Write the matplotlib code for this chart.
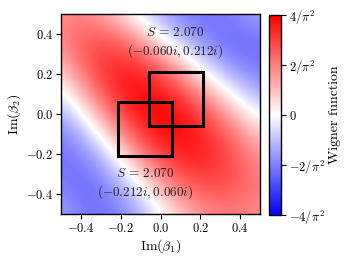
import numpy as np
import matplotlib
matplotlib.use("Agg")
import matplotlib.pyplot as plt
from matplotlib.patches import Rectangle

plt.rcParams['mathtext.fontset'] = 'cm'
plt.rcParams['font.family'] = 'serif'
plt.rcParams['font.serif'] = ['cmr10', 'DejaVu Serif']
plt.rcParams['axes.unicode_minus'] = False

# sample grid (Im beta1 along columns, Im beta2 along rows, top row = 0.5)
im_b1 = [-0.5, -0.4, -0.3, -0.2, -0.1, 0.0, 0.1, 0.2, 0.3, 0.4, 0.5]
im_b2 = [0.5, 0.4, 0.3, 0.2, 0.1, 0.0, -0.1, -0.2, -0.3, -0.4, -0.5]

# Wigner function values in units of 1/pi^2
w_rows = [
    [1.80, 1.87, 1.50, 0.70, -0.37, -1.32, -1.92, -2.18, -2.11, -1.81, -1.44],
    [1.87, 2.40, 2.45, 1.98, 1.06, -0.13, -1.22, -1.89, -2.22, -2.24, -2.00],
    [1.50, 2.45, 3.00, 3.00, 2.44, 1.42, 0.15, -1.04, -1.78, -2.17, -2.24],
    [0.70, 1.98, 3.00, 3.52, 3.44, 2.79, 1.72, 0.44, -0.75, -1.54, -1.95],
    [-0.37, 1.06, 2.44, 3.44, 3.87, 3.70, 2.98, 1.90, 0.67, -0.46, -1.27],
    [-1.32, -0.13, 1.42, 2.79, 3.70, 4.00, 3.72, 2.96, 1.93, 0.81, -0.20],
    [-1.92, -1.22, 0.15, 1.72, 2.98, 3.72, 3.87, 3.50, 2.76, 1.82, 0.86],
    [-2.18, -1.89, -1.04, 0.44, 1.90, 2.96, 3.50, 3.52, 3.10, 2.40, 1.59],
    [-2.11, -2.22, -1.78, -0.75, 0.67, 1.93, 2.76, 3.10, 3.00, 2.57, 1.96],
    [-1.81, -2.24, -2.17, -1.54, -0.46, 0.81, 1.82, 2.40, 2.57, 2.40, 2.00],
    [-1.44, -2.00, -2.24, -1.95, -1.27, -0.20, 0.86, 1.59, 1.96, 2.00, 1.80],
]

# the two boxes: lower-left corner and side length
box_corners = [(-0.060, -0.060), (-0.212, -0.212)]
box_side = 0.272
box_scores = [2.070, 2.070]
box_labels = [r'$(-0.060i, 0.212i)$', r'$(-0.212i, 0.060i)$']
label_pos = [(0.075, 0.355), (-0.078, -0.348)]

ticks = [-0.4, -0.2, 0.0, 0.2, 0.4]
tick_text = [r'$-0.4$', r'$-0.2$', r'$0.0$', r'$0.2$', r'$0.4$']
cbar_ticks = [-4, -2, 0, 2, 4]
cbar_text = [r'$-4/\pi^2$', r'$-2/\pi^2$', r'$0$', r'$2/\pi^2$', r'$4/\pi^2$']

fig = plt.figure(figsize=(3.49, 2.62), dpi=100)
ax = fig.add_axes([0.175, 0.183, 0.570, 0.763])
cax = fig.add_axes([0.771, 0.179, 0.034, 0.763])

W = np.array(w_rows)
half = 0.05
img = ax.imshow(W, cmap='bwr', vmin=-4, vmax=4, interpolation='bicubic',
                extent=[im_b1[0] - half, im_b1[-1] + half, im_b2[-1] - half, im_b2[0] + half],
                aspect='auto')
ax.set_xlim(-0.5, 0.5)
ax.set_ylim(-0.5, 0.5)

for (x0, y0), s, lab, (tx, ty) in zip(box_corners, box_scores, box_labels, label_pos):
    ax.add_patch(Rectangle((x0, y0), box_side, box_side, fill=False,
                           edgecolor='black', linewidth=2.2))
    ax.text(tx, ty, r'$S\,=\,%.3f$' % s + '\n' + lab, ha='center', va='center',
            fontsize=9.5, linespacing=1.25, color='#222222')

ax.set_xticks(ticks)
ax.set_xticklabels(tick_text, fontsize=9)
ax.set_yticks(ticks)
ax.set_yticklabels(tick_text, fontsize=9)
ax.set_xlabel(r'$\mathrm{Im}(\beta_1)$', fontsize=10, labelpad=2)
ax.set_ylabel(r'$\mathrm{Im}(\beta_2)$', fontsize=10, labelpad=2)
ax.tick_params(length=3.5, width=0.8, pad=2)
for sp in ax.spines.values():
    sp.set_linewidth(1.0)

cb = fig.colorbar(img, cax=cax, ticks=cbar_ticks)
cb.ax.set_yticklabels(cbar_text, fontsize=9)
cb.ax.tick_params(length=3.5, width=0.8, pad=2)
cb.set_label('Wigner function', fontsize=10, labelpad=3)
cb.outline.set_linewidth(1.0)

fig.savefig('out.png', dpi=100)
